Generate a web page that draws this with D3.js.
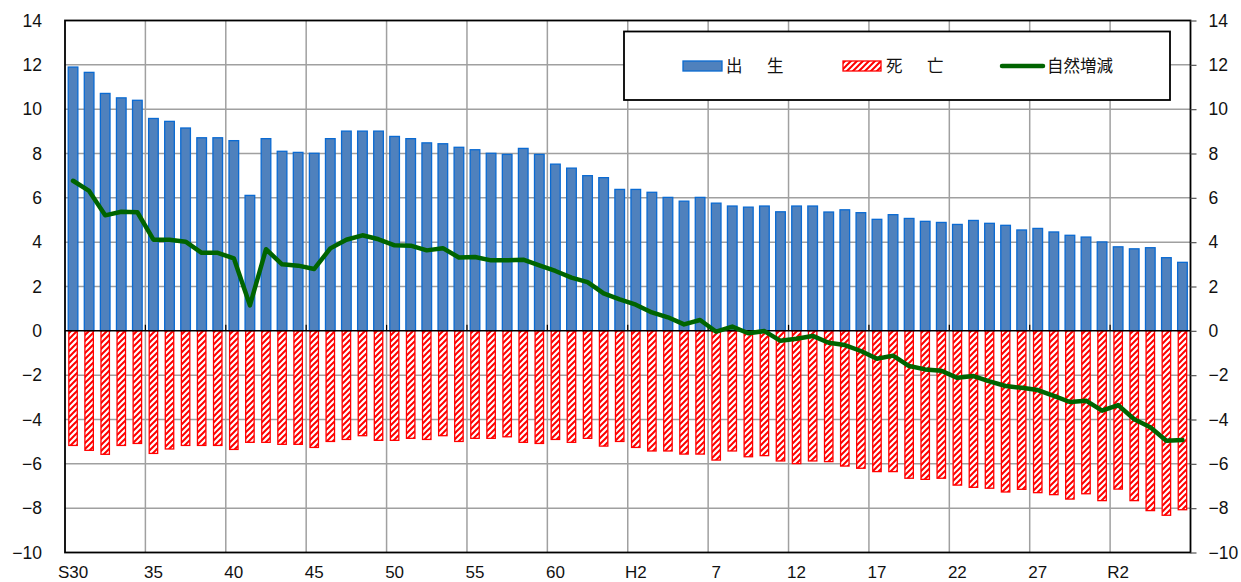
<!DOCTYPE html>
<html>
<head>
<meta charset="utf-8">
<script src="https://cdn.jsdelivr.net/npm/d3@7/dist/d3.min.js"></script>
<style>
  html, body { margin: 0; padding: 0; background: #fff; }
  svg { display: block; }
</style>
</head>
<body>
<svg id="chart" width="1241" height="582"></svg>
<script>
// ---- Data ----
const categories = [
  "S30","S31","S32","S33","S34","S35","S36","S37","S38","S39",
  "S40","S41","S42","S43","S44","S45","S46","S47","S48","S49",
  "S50","S51","S52","S53","S54","S55","S56","S57","S58","S59",
  "S60","S61","S62","S63","H1","H2","H3","H4","H5","H6",
  "H7","H8","H9","H10","H11","H12","H13","H14","H15","H16",
  "H17","H18","H19","H20","H21","H22","H23","H24","H25","H26",
  "H27","H28","H29","H30","R1","R2","R3","R4","R5","R6"
];
const tickLabels = ["S30","35","40","45","50","55","60","H2","7","12","17","22","27","R2"];
const births = [
  11.90,11.66,10.71,10.51,10.40,9.58,9.45,9.15,8.71,8.71,
  8.58,6.11,8.67,8.10,8.05,8.01,8.67,9.01,9.01,9.01,
  8.77,8.67,8.48,8.44,8.28,8.17,8.01,7.96,8.23,7.96,
  7.52,7.34,7.00,6.91,6.38,6.38,6.25,6.02,5.85,6.02,
  5.76,5.63,5.58,5.63,5.37,5.63,5.63,5.36,5.46,5.33,
  5.03,5.24,5.07,4.94,4.89,4.80,4.98,4.85,4.76,4.55,
  4.62,4.46,4.31,4.23,4.01,3.79,3.70,3.75,3.30,3.09
];
const deaths = [
  -5.17,-5.39,-5.57,-5.17,-5.08,-5.53,-5.33,-5.17,-5.17,-5.17,
  -5.35,-5.03,-5.03,-5.12,-5.12,-5.26,-4.99,-4.90,-4.73,-4.94,
  -4.94,-4.85,-4.90,-4.73,-4.99,-4.85,-4.85,-4.78,-5.03,-5.08,
  -4.90,-5.03,-4.85,-5.20,-4.99,-5.26,-5.42,-5.42,-5.56,-5.56,
  -5.83,-5.42,-5.68,-5.63,-5.87,-5.99,-5.87,-5.90,-6.10,-6.20,
  -6.35,-6.35,-6.65,-6.70,-6.65,-6.96,-7.06,-7.10,-7.27,-7.15,
  -7.30,-7.39,-7.59,-7.35,-7.66,-7.14,-7.66,-8.11,-8.32,-8.07
];
const naturalChange = [
  6.77,6.31,5.21,5.37,5.35,4.11,4.11,4.02,3.52,3.52,
  3.27,1.15,3.68,3.00,2.94,2.79,3.72,4.11,4.31,4.13,
  3.86,3.84,3.63,3.73,3.31,3.33,3.18,3.18,3.21,2.95,
  2.70,2.40,2.20,1.69,1.42,1.18,0.83,0.61,0.29,0.49,
  -0.04,0.19,-0.11,-0.01,-0.45,-0.36,-0.23,-0.54,-0.64,-0.91,
  -1.26,-1.12,-1.59,-1.74,-1.80,-2.12,-2.04,-2.28,-2.49,-2.57,
  -2.67,-2.93,-3.21,-3.15,-3.60,-3.35,-3.99,-4.35,-4.96,-4.93
];
const yTicks = [14,12,10,8,6,4,2,0,-2,-4,-6,-8,-10];
const legendLabels = [["出","生"],["死","亡"],["自然増減"]];

// ---- Layout ----
const L = 65, R = 1190.5, T = 20.5, B = 552.5;
const svg = d3.select("#chart");

const x = d3.scaleBand().domain(categories).range([L, R]).paddingInner(0.4).paddingOuter(0.2);
const step = x.step();
const y = d3.scaleLinear().domain([-10, 14]).range([B, T]);
const bandStart = c => x(c) - x.paddingInner() * step / 2;

// pattern
const defs = svg.append("defs");
const pat = defs.append("pattern").attr("id","hatch").attr("patternUnits","userSpaceOnUse")
  .attr("width",6).attr("height",6);
pat.append("rect").attr("width",6).attr("height",6).attr("fill","#fff");
pat.append("path").attr("d","M-1.5,1.5 L1.5,-1.5 M0,6 L6,0 M4.5,7.5 L7.5,4.5")
  .attr("stroke","#ff0000").attr("stroke-width",2);

const tickIdx = tickLabels.map((t,i) => i*5);

// gridlines
const grid = svg.append("g");
grid.selectAll("line.h").data(yTicks.filter(v => v !== 14 && v !== -10 && v !== 0)).join("line")
  .attr("x1", L).attr("x2", R).attr("y1", d => y(d)).attr("y2", d => y(d))
  .attr("stroke", "#a0a0a0").attr("stroke-width", 1.5);
grid.selectAll("line.v").data(tickIdx.slice(1)).join("line")
  .attr("x1", i => bandStart(categories[i])).attr("x2", i => bandStart(categories[i]))
  .attr("y1", T).attr("y2", B)
  .attr("stroke", "#a0a0a0").attr("stroke-width", 1.5);

// birth bars
svg.append("g").selectAll("rect").data(births).join("rect")
  .attr("x", (d,i) => x(categories[i]))
  .attr("width", x.bandwidth())
  .attr("y", d => y(d))
  .attr("height", d => y(0) - y(d))
  .attr("fill", "#4f81bd").attr("stroke", "#0a6ad2").attr("stroke-width", 1.3);

// death bars
svg.append("g").selectAll("rect").data(deaths).join("rect")
  .attr("x", (d,i) => x(categories[i]) + 0.6)
  .attr("width", x.bandwidth() - 1.2)
  .attr("y", y(0))
  .attr("height", d => y(d) - y(0))
  .attr("fill", "url(#hatch)").attr("stroke", "#ff0000").attr("stroke-width", 1.3);

// zero line + small ticks
svg.append("line").attr("x1", L).attr("x2", R).attr("y1", y(0)).attr("y2", y(0))
  .attr("stroke", "#000").attr("stroke-width", 1.5);
svg.append("g").selectAll("line").data(tickIdx.slice(1)).join("line")
  .attr("x1", i => bandStart(categories[i])).attr("x2", i => bandStart(categories[i]))
  .attr("y1", y(0) - 6).attr("y2", y(0))
  .attr("stroke", "#000").attr("stroke-width", 1.2);

// natural change line
const line = d3.line().x((d,i) => x(categories[i]) + x.bandwidth()/2).y(d => y(d));
svg.append("path").datum(naturalChange).attr("d", line)
  .attr("fill","none").attr("stroke","#006400").attr("stroke-width",4.5)
  .attr("stroke-linejoin","round").attr("stroke-linecap","round");

// frame
svg.append("rect").attr("x", L).attr("y", T).attr("width", R-L).attr("height", B-T)
  .attr("fill","none").attr("stroke","#000").attr("stroke-width",1.8);

// axes
const fmt = d3.format("d");
const leftAxis = d3.axisLeft(y).tickValues(yTicks).tickSize(0).tickPadding(23).tickFormat(fmt);
const rightAxis = d3.axisRight(y).tickValues(yTicks).tickSize(6).tickPadding(12).tickFormat(fmt);
const ga = svg.append("g").attr("transform", `translate(${L},0)`).call(leftAxis);
const gb = svg.append("g").attr("transform", `translate(${R},0)`).call(rightAxis);
[ga, gb].forEach(g => {
  g.select(".domain").remove();
  g.selectAll("text").attr("font-family","'Liberation Sans', Arial, sans-serif")
    .attr("font-size", 17.5).attr("fill","#111");
  g.selectAll("line").attr("stroke","#555").attr("stroke-width",1.2);
});

const xAxis = d3.axisBottom(x).tickValues(tickIdx.map(i => categories[i]))
  .tickSize(0).tickPadding(0).tickFormat((d) => tickLabels[categories.indexOf(d) / 5]);
const gx = svg.append("g").attr("transform", `translate(0,${B})`).call(xAxis);
gx.select(".domain").remove();
gx.selectAll("text").attr("font-family","'Liberation Sans', Arial, sans-serif")
  .attr("font-size", 17).attr("fill","#111").attr("dy", null).attr("y", 25.3);

// legend
const lg = svg.append("g");
lg.append("rect").attr("x", 624).attr("y", 31.5).attr("width", 546).attr("height", 68.5)
  .attr("fill","#fff").attr("stroke","#000").attr("stroke-width",1.8);
lg.append("rect").attr("x", 683).attr("y", 61).attr("width", 39).attr("height", 10)
  .attr("fill","#4f81bd").attr("stroke","#0a6ad2").attr("stroke-width",1.3);
lg.append("rect").attr("x", 843).attr("y", 61).attr("width", 38).attr("height", 10)
  .attr("fill","url(#hatch)").attr("stroke","#ff0000").attr("stroke-width",1.3);
lg.append("line").attr("x1", 1002).attr("x2", 1043).attr("y1", 66).attr("y2", 66)
  .attr("stroke","#006400").attr("stroke-width",4.5).attr("stroke-linecap","round");
const lt = (xp, str) => lg.append("text").attr("x", xp).attr("y", 72)
  .attr("font-family","'Noto Sans CJK JP', sans-serif").attr("font-size",16.5)
  .attr("fill","#111").text(str);
lt(726, legendLabels[0][0]); lt(767, legendLabels[0][1]);
lt(886, legendLabels[1][0]); lt(927, legendLabels[1][1]);
lt(1047, legendLabels[2][0]);
</script>
</body>
</html>
